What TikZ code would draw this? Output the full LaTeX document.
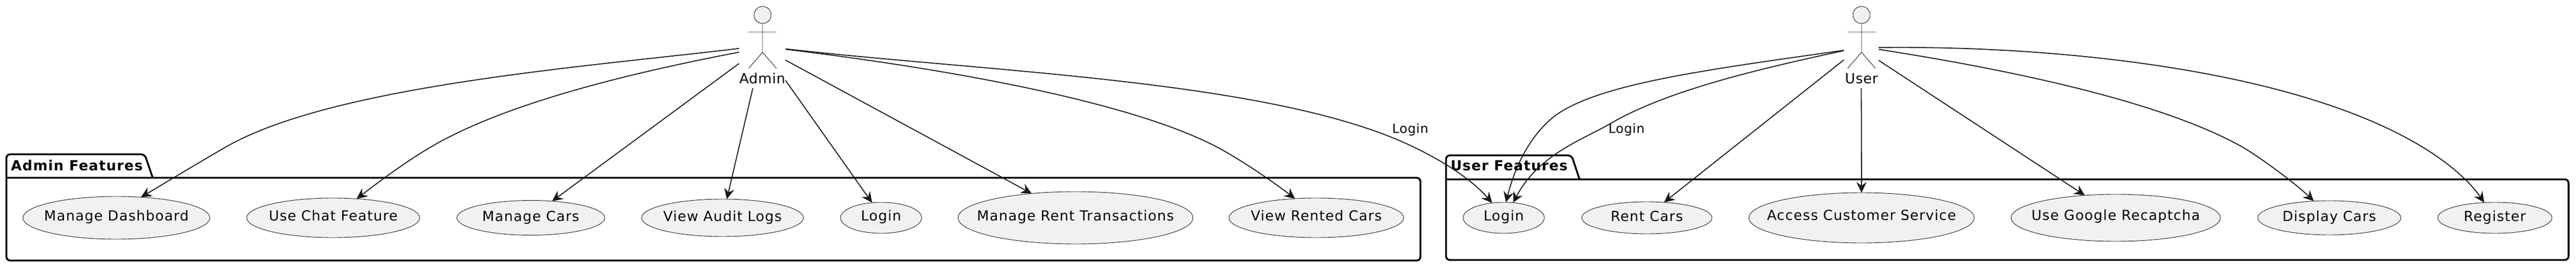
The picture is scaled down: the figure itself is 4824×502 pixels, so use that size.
\documentclass[tikz,border=0pt]{standalone}
\usepackage{fontspec}
\usetikzlibrary{arrows.meta,shapes.geometric}
\setmainfont[LetterSpace=5]{DejaVu Sans}
\newfontfamily\pkgfont[LetterSpace=5]{DejaVu Sans Bold}
\newfontfamily\tagfont[LetterSpace=3]{DejaVu Sans}
\newcommand{\uctext}[2][5.5pt]{\smash{\raisebox{-#1}{\makebox[0pt]{#2}}}}
\definecolor{ink}{HTML}{181818}
\definecolor{pale}{HTML}{F1F1F1}
\tikzset{
  x=1pt,y=-1pt,
  every node/.style={font=\fontsize{26}{30}\selectfont,inner sep=0pt,outer sep=0pt},
  usecase/.style={ellipse,draw=ink,fill=pale,line width=0.9pt},
  frame/.style={draw=black,line width=3.4pt,rounded corners=7pt},
  pkgtitle/.style={anchor=base west,font=\fontsize{26}{30}\selectfont\pkgfont},
  tag/.style={anchor=base,text=black,font=\fontsize{26}{30}\selectfont\tagfont},
  edgetag/.style={anchor=base,text=black,font=\fontsize{24}{28}\selectfont\tagfont},
  stick/.style={draw=ink,line width=0.9pt},
  headshape/.style={circle,draw=ink,fill=pale,line width=0.9pt,minimum size=32pt},
  actorbox/.style={rectangle,minimum height=153pt},
  link/.style={draw=ink,line width=1.8pt,-{Stealth[length=20pt 0 0,width=19pt 0 0,inset=7pt 0 0]}},
}
\begin{document}
\begin{tikzpicture}
\useasboundingbox (0,0) rectangle (4824,502);
% packages
\draw[frame] (12,333) -- (12,289) -- (271,289) -- (286,333);
\draw[frame] (12,333) -- (2660,333) -- (2660,488) -- (12,488) -- (12,333);
\node[pkgtitle] (adminpkg) at (20.7,320) {Admin Features};
\draw[frame] (2708,336) -- (2708,291) -- (2943,291) -- (2958,336);
\draw[frame] (2708,336) -- (4810,336) -- (4810,487) -- (2708,487) -- (2708,336);
\node[pkgtitle] (userpkg) at (2716.5,320) {User Features};
% use cases
\node[usecase,minimum width=350pt,minimum height=80pt] (mdash) at (218,408) {\uctext{Manage Dashboard}};
\node[usecase,minimum width=324pt,minimum height=74pt] (chat) at (624,408) {\uctext{Use Chat Feature}};
\node[usecase,minimum width=277pt,minimum height=65pt] (mcars) at (994,408) {\uctext[6.5pt]{Manage Cars}};
\node[usecase,minimum width=303pt,minimum height=70pt] (audit) at (1353,408) {\uctext[6.5pt]{View Audit Logs}};
\node[usecase,minimum width=152pt,minimum height=58pt] (alogin) at (1650,408) {\uctext{Login}};
\node[usecase,minimum width=440pt,minimum height=98pt] (rent) at (2014,408) {\uctext{Manage Rent Transactions}};
\node[usecase,minimum width=327pt,minimum height=74pt] (rented) at (2465,408) {\uctext{View Rented Cars}};
\node[usecase,minimum width=152pt,minimum height=58pt] (ulogin) at (2816,408) {\uctext{Login}};
\node[usecase,minimum width=244pt,minimum height=60pt] (rentcars) at (3084,408) {\uctext[6.5pt]{Rent Cars}};
\node[usecase,minimum width=422pt,minimum height=94pt] (access) at (3486,408) {\uctext[4.5pt]{Access Customer Service}};
\node[usecase,minimum width=392pt,minimum height=88pt] (captcha) at (3962,408) {\uctext[4.5pt]{Use Google Recaptcha}};
\node[usecase,minimum width=268pt,minimum height=64pt] (display) at (4362,408) {\uctext[6.5pt]{Display Cars}};
\node[usecase,minimum width=214pt,minimum height=58pt] (register) at (4672,408) {\uctext[6.5pt]{Register}};
% actors
\node[headshape] (adminhead) at (1428,28) {};
\draw[stick] (adminhead.south) -- (1428,98) -- (1402,128) (1428,98) -- (1454,128) (1402,60) -- (1454,60);
\node[tag] (adminname) at (1427.5,157) {Admin};
\node[actorbox,minimum width=87pt] (admin) at (1427.5,88.5) {};
\node[headshape] (userhead) at (3486,28) {};
\draw[stick] (userhead.south) -- (3486,98) -- (3460,128) (3486,98) -- (3512,128) (3460,60) -- (3512,60);
\node[tag] (username) at (3486,157) {User};
\node[actorbox,minimum width=65pt] (user) at (3485.5,88.5) {};
% connectors
\draw[link] (admin.183.3) .. controls (1100,125) and (620,160) .. (420,277) .. controls (370,306) and (305,345) .. (mdash.40.2);
\draw[link] (admin.192) .. controls (1200,133) and (950,190) .. (804,277) .. controls (760,303) and (710,340) .. (chat.39.3);
\draw[link] (admin.215.5) -- (mcars.38.5);
\draw[link] (admin.257.1) -- (audit.77);
\draw[link] (admin.-55.6) -- (alogin.121.8);
\draw[link] (admin.-29.1) -- (rent.151.2);
\draw[link] (admin.-5) .. controls (1700,120) and (2100,180) .. (2282,277) .. controls (2330,303) and (2390,345) .. (rented.138.6);
\draw[link] (admin.-4.6) .. controls (1850,135) and (2380,150) .. (2640,272) .. controls (2700,300) and (2755,335) .. (ulogin.128.2);
\node[edgetag] (loginleft) at (2641,250) {Login};
\draw[link] (user.190) .. controls (3200,130) and (3010,155) .. (2922,210) .. controls (2875,240) and (2840,300) .. (ulogin.82.1);
\draw[link] (user.191) .. controls (3290,130) and (3120,170) .. (3013,233) .. controls (2965,261) and (2880,290) .. (ulogin.58.2);
\node[edgetag] (loginright) at (3046,250) {Login};
\draw[link] (user.216) -- (rentcars.42.3);
\draw[link] (user.south) -- (access.north);
\draw[link] (user.-37) -- (captcha.144.6);
\draw[link] (user.-7) .. controls (3760,130) and (4050,190) .. (4202,277) .. controls (4240,300) and (4300,345) .. (display.133.1);
\draw[link] (user.-1) .. controls (3850,85) and (4300,130) .. (4539,277) .. controls (4589,308) and (4625,340) .. (register.125.9);
\end{tikzpicture}
\end{document}
